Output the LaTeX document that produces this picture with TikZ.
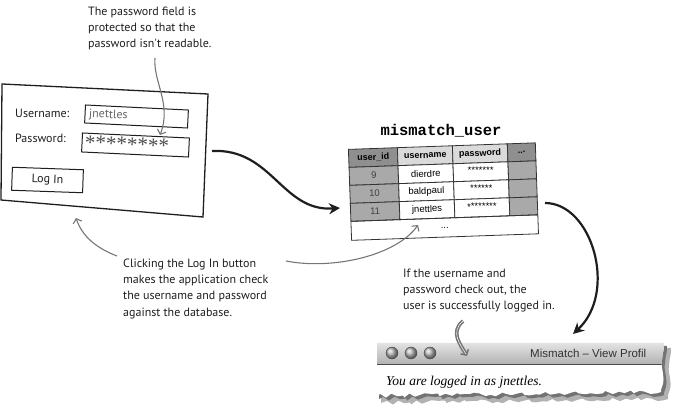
\documentclass[tikz,border=0pt]{standalone}
\usepackage{fontspec}
\setmainfont{Liberation Serif}
\newfontfamily\handfont{PT Sans}
\newfontfamily\cellfont{Liberation Sans}
\newfontfamily\codefont{Liberation Mono}
\usepackage{tikz}
\usetikzlibrary{arrows.meta,positioning,calc,decorations.pathmorphing,shadings}
\definecolor{mmink}{HTML}{1E1E1E}
\definecolor{mmnote}{HTML}{767676}
\definecolor{mmkey}{HTML}{A9A9A9}
\definecolor{mmhead}{HTML}{8F8F8F}
\definecolor{mmlight}{HTML}{DADADA}

\begin{document}
\begin{tikzpicture}[
  x=1pt, y=-1pt,
  font=\handfont\fontsize{12}{16.3}\selectfont,
  note/.style={align=left, inner sep=0pt, anchor=north west, text=mmink},
  formlabel/.style={inner sep=0pt, anchor=base west, text=mmink},
  field/.style={draw=mmink, line width=1pt, minimum height=18pt, inner sep=3pt, text=black!60, align=left},
  tcell/.style={draw=black!80, line width=0.8pt, inner sep=0pt, anchor=north west, minimum height=18pt, font=\cellfont\fontsize{9.5}{10}\selectfont},
  keyc/.style={tcell, fill=mmkey, minimum width=49pt, text=black!75},
  valc/.style={tcell, fill=white, minimum width=55pt},
  morec/.style={tcell, fill=mmkey, minimum width=28pt},
  headc/.style={tcell, fill=mmlight, minimum width=55pt, font=\cellfont\bfseries\fontsize{9}{10}\selectfont},
  flow/.style={-{Stealth[length=11pt, width=11pt, inset=3.5pt]}, line width=2.2pt, mmink},
  pointer/.style={-{Straight Barb[length=4pt, width=9pt]}, line width=1.1pt, mmnote},
  light/.style={circle, minimum size=12pt, inner sep=0pt, ball color=gray!55, draw=gray!55!black, line width=0.4pt},
  torn/.style={decoration={random steps, segment length=5pt, amplitude=2.2pt}},
]
\useasboundingbox (0,0) rectangle (677,411);

% ---- the login form ----
\draw[line width=1.3pt, mmink] (2,84) -- (208,94) -- (203,217) -- (1,200) -- cycle;
\node[formlabel] (ulabel) at (15,118) {Username:};
\node[formlabel] (plabel) at (15,143) {Password:};
\node[field, rotate=-2.8, minimum width=103pt, text width=95pt] (user) at (136.5,116.5) {jnettles};
\node[field, rotate=-2.7, minimum width=107pt, text width=101pt, minimum height=19pt, inner sep=1pt, text=black!70,
      font=\fontsize{21}{21}\selectfont] (pass) at (135.5,145) {\raisebox{-6pt}{********}};
\node[draw=mmink, line width=1pt, rotate=-2, minimum width=71pt, minimum height=23pt, text=mmink] (login) at (47.5,180) {Log In};

% ---- the database table ----
\node[font=\codefont\bfseries\fontsize{15.5}{16}\selectfont] (tname) at (441,131) {mismatch\_user};
\begin{scope}[shift={(348,149)}, rotate=2, transform shape]
\node[headc, fill=mmhead, minimum width=49pt] (h1) at (0,0) {user\_id};
\node[headc] (h2) at (49,0) {username};
\node[headc] (h3) at (104,0) {password};
\node[headc, fill=mmhead, minimum width=28pt] (h4) at (159,0) {...};
\foreach \id/\nm/\pw/\r in {9/dierdre/{*******}/1, 10/baldpaul/{******}/2, 11/jnettles/{********}/3} {
  \node[keyc] (k\id) at (0,18*\r) {\id};
  \node[valc] (n\id) at (49,18*\r) {\nm};
  \node[valc] (p\id) at (104,18*\r) {\raisebox{3pt}{\pw}};
  \node[morec] (m\id) at (159,18*\r) {};
}
\node[tcell, minimum width=187pt, minimum height=19pt] (tend) at (0,72) {...};
\end{scope}

% ---- the logged-in window ----
\pgfmathsetseed{11}
\fill[black!30] (381,348) -- (671,348) decorate[torn]{ -- (668,399) -- (381,403)} -- cycle;
\pgfmathsetseed{11}
\fill[black!55] (379,346) -- (667,346) decorate[torn]{ -- (664,395) -- (379,399)} -- cycle;
\pgfmathsetseed{11}
\fill[white] (377,343) -- (664,343) decorate[torn]{ -- (661,392) -- (377,396)} -- cycle;
\begin{scope}
\pgfmathsetseed{11}
\clip (377,343) -- (664,343) decorate[torn]{ -- (661,392) -- (377,396)} -- cycle;
\shade[top color=gray!22, bottom color=gray!60] (377,343) rectangle (677,364);
\draw[gray!60!black, line width=0.6pt] (377,364) -- (677,364);
\node[anchor=base west, inner sep=0pt, text=black!80, font=\cellfont\fontsize{11.5}{12}\selectfont] (wtitle) at (530,357) {Mismatch – View Profil};
\end{scope}
\node[light] (b1) at (392,353) {};
\node[light] (b2) at (411,353) {};
\node[light] (b3) at (430,353) {};
\node[anchor=base west, inner sep=0pt, font=\rmfamily\itshape\fontsize{13.5}{14}\selectfont] (msg) at (386,385) {You are logged in as jnettles.};

% ---- notes ----
\node[note] (pwnote) at (88,6.5) {The password field is\\protected so that the\\password isn't readable.};
\node[note] (clicknote) at (123,258.5) {Clicking the Log In button\\makes the application check\\the username and password\\against the database.};
\node[note] (oknote) at (403,268.5) {If the username and\\password check out, the\\user is successfully logged in.};

% ---- connectors ----
\coordinate (formout) at (212,151);
\coordinate (tabin)   at (340,208);
\coordinate (tabout)  at (545,203);
\coordinate (winin)   at (573,334);
\draw[flow] (formout) .. controls (272,148) and (282,212) .. (tabin);
\draw[flow] (tabout) .. controls (592,203) and (618,292) .. (winin);

\coordinate (pwfrom) at (155,58);
\coordinate (pwto)   at (160,135);
\draw[pointer] (pwfrom) .. controls (153,82) and (172,104) .. (pwto);
\coordinate (clickfrom) at (117,256);
\coordinate (clickto)   at (76,218);
\draw[pointer] (clickfrom) .. controls (96,248) and (82,236) .. (clickto);
\coordinate (dbfrom) at (286,261);
\coordinate (dbto)   at (418,225);
\draw[pointer] (dbfrom) .. controls (332,270) and (396,256) .. (dbto);
\coordinate (okfrom) at (463,321);
\coordinate (okto)   at (467,356);
\draw[-{Straight Barb[length=4pt, width=9pt]}, mmnote, line width=1.6pt, double=white, double distance=0.5pt]
  (okfrom) .. controls (450,332) and (460,344) .. (okto);
\end{tikzpicture}
\end{document}
